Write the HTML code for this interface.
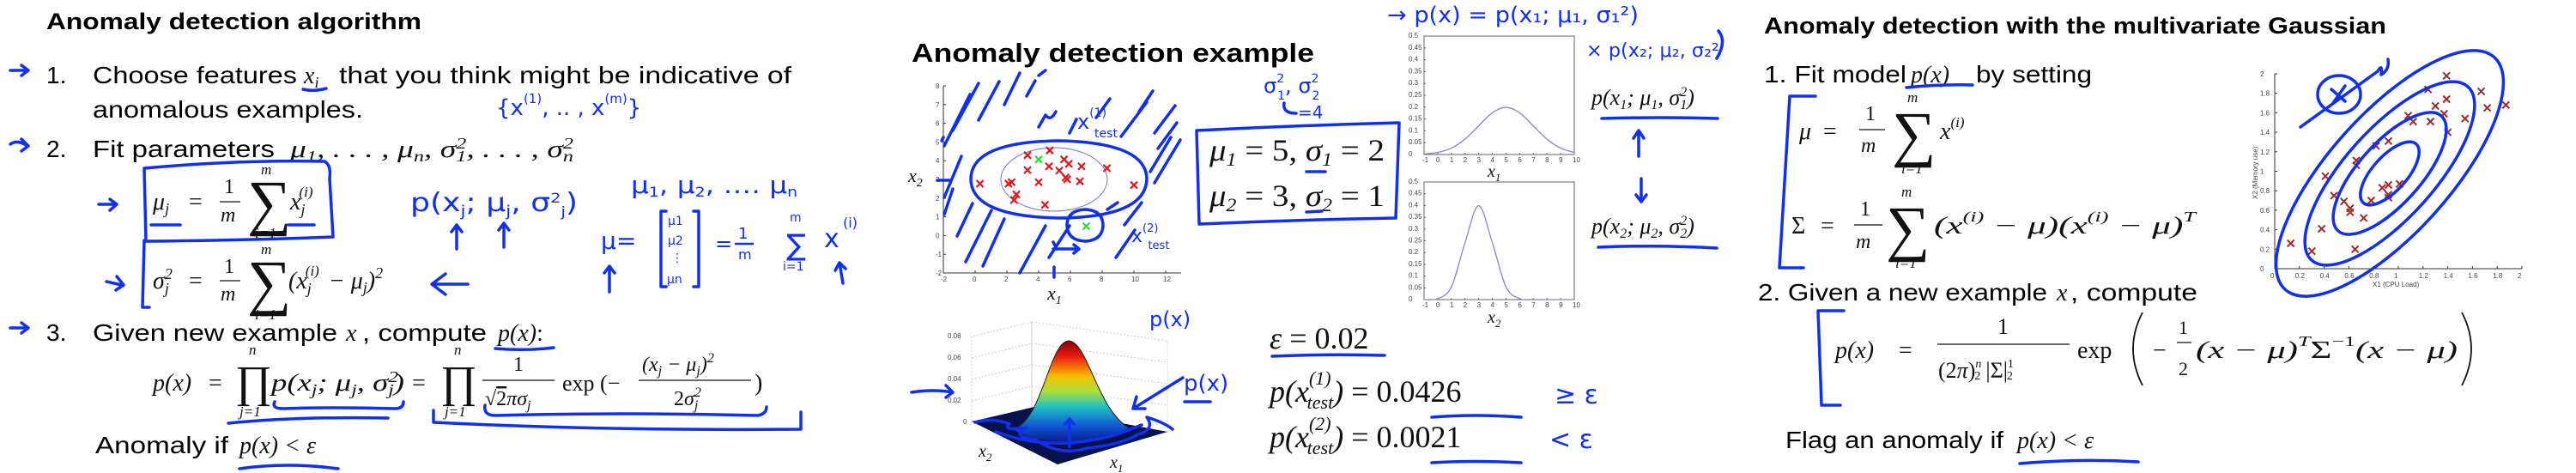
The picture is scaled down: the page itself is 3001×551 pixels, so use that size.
<!DOCTYPE html>
<html><head><meta charset="utf-8"><title>Anomaly detection slides</title>
<style>
html,body{margin:0;padding:0;background:#fff;}
svg{display:block;}
.t{font-family:"Liberation Sans",sans-serif;fill:#000;}
.b{font-weight:bold;}
.m{font-family:"Liberation Serif",serif;font-style:italic;fill:#111;}
.r{font-family:"Liberation Serif",serif;fill:#111;}
.h{font-family:"DejaVu Sans","Liberation Sans",sans-serif;fill:#1030f0;}
.hw{fill:none;stroke:#1030f0;stroke-width:3.5;stroke-linecap:round;stroke-linejoin:round;}
.tk{font-family:"Liberation Sans",sans-serif;fill:#444;font-size:8px;}
</style></head>
<body>
<svg id="root" width="3001" height="551" viewBox="0 0 3001 551" xmlns="http://www.w3.org/2000/svg">
<defs>
<linearGradient id="jet" x1="0" y1="0" x2="0" y2="1">
<stop offset="0" stop-color="#8b0000"/><stop offset="0.15" stop-color="#e81a10"/>
<stop offset="0.35" stop-color="#f5c000"/><stop offset="0.5" stop-color="#a8e040"/>
<stop offset="0.65" stop-color="#20c0c8"/><stop offset="0.85" stop-color="#1050d0"/>
<stop offset="1" stop-color="#0a1a80"/></linearGradient>
</defs>

<!-- ================= LEFT PANEL ================= -->
<g>
<text class="t b" x="54" y="34" font-size="27" textLength="437" lengthAdjust="spacingAndGlyphs">Anomaly detection algorithm</text>

<text class="t" x="54" y="97" font-size="28">1.</text>
<text class="t" x="108" y="97" font-size="28" textLength="238" lengthAdjust="spacingAndGlyphs">Choose features</text>
<text class="m" x="354" y="97" font-size="28">x<tspan font-size="18" dy="5">i</tspan></text>
<text class="t" x="395" y="97" font-size="28" textLength="527" lengthAdjust="spacingAndGlyphs">that you think might be indicative of</text>
<text class="t" x="108" y="137" font-size="28" textLength="315" lengthAdjust="spacingAndGlyphs">anomalous examples.</text>

<text class="t" x="54" y="183" font-size="28">2.</text>
<text class="t" x="108" y="183" font-size="28" textLength="212" lengthAdjust="spacingAndGlyphs">Fit parameters</text>
<text class="m" x="338" y="183" font-size="28" textLength="330" lengthAdjust="spacingAndGlyphs">μ<tspan font-size="18" dy="5">1</tspan><tspan dy="-5">, . . . , μ</tspan><tspan font-size="18" dy="5">n</tspan><tspan dy="-5">, σ</tspan><tspan font-size="18" dy="-10">2</tspan><tspan font-size="18" dx="-9" dy="15">1</tspan><tspan dy="-5">, . . . , σ</tspan><tspan font-size="18" dy="-10">2</tspan><tspan font-size="18" dx="-9" dy="15">n</tspan></text>

<g>
<text class="m" x="178" y="244" font-size="28">μ<tspan font-size="18" dy="5">j</tspan></text>
<text class="r" x="220" y="244" font-size="28">=</text>
<text class="r" x="261" y="225" font-size="24">1</text>
<line x1="256" y1="235" x2="280" y2="235" stroke="#111" stroke-width="1.3"/>
<text class="m" x="257" y="258" font-size="24">m</text>
<text class="r" x="288" y="260" font-size="72">∑</text>
<text class="m" x="304" y="203" font-size="17">m</text>
<text class="m" x="297" y="277" font-size="17">i=1</text>
<text class="m" x="338" y="244" font-size="28">x<tspan font-size="18" dy="6">j</tspan><tspan font-size="17" dx="-7" dy="-21">(i)</tspan></text>
</g>
<g>
<text class="m" x="178" y="336" font-size="28">σ<tspan font-size="18" dy="-11">2</tspan><tspan font-size="18" dx="-9" dy="17">j</tspan></text>
<text class="r" x="220" y="336" font-size="28">=</text>
<text class="r" x="261" y="318" font-size="24">1</text>
<line x1="256" y1="327" x2="280" y2="327" stroke="#111" stroke-width="1.3"/>
<text class="m" x="257" y="350" font-size="24">m</text>
<text class="r" x="288" y="353" font-size="72">∑</text>
<text class="m" x="304" y="296" font-size="17">m</text>
<text class="m" x="297" y="372" font-size="17">i=1</text>
<text class="m" x="336" y="336" font-size="28">(x<tspan font-size="18" dy="6">j</tspan><tspan font-size="17" dx="-7" dy="-21">(i)</tspan><tspan dx="4" dy="15"> − μ</tspan><tspan font-size="18" dy="5">j</tspan><tspan dy="-5">)</tspan><tspan font-size="18" dy="-12">2</tspan></text>
</g>

<text class="t" x="54" y="397" font-size="28">3.</text>
<text class="t" x="108" y="397" font-size="28" textLength="285" lengthAdjust="spacingAndGlyphs">Given new example</text>
<text class="m" x="403" y="397" font-size="28">x</text>
<text class="t" x="422" y="397" font-size="28" textLength="145" lengthAdjust="spacingAndGlyphs">, compute</text>
<text class="m" x="580" y="397" font-size="28">p(x)<tspan font-style="normal">:</tspan></text>

<g>
<text class="m" x="178" y="455" font-size="28">p(x)</text>
<text class="r" x="243" y="455" font-size="28">=</text>
<text class="r" x="274" y="462" font-size="52">∏</text>
<text class="m" x="290" y="413" font-size="17">n</text>
<text class="m" x="279" y="485" font-size="17">j=1</text>
<text class="m" x="316" y="455" font-size="28" textLength="155" lengthAdjust="spacingAndGlyphs">p(x<tspan font-size="18" dy="5">j</tspan><tspan dy="-5">; μ</tspan><tspan font-size="18" dy="5">j</tspan><tspan dy="-5">, σ</tspan><tspan font-size="18" dy="-10">2</tspan><tspan font-size="18" dx="-9" dy="15">j</tspan><tspan dy="-5">)</tspan></text>
<text class="r" x="480" y="455" font-size="28">=</text>
<text class="r" x="513" y="462" font-size="52">∏</text>
<text class="m" x="529" y="413" font-size="17">n</text>
<text class="m" x="518" y="485" font-size="17">j=1</text>
<text class="r" x="598" y="432" font-size="24">1</text>
<line x1="562" y1="443" x2="646" y2="443" stroke="#111" stroke-width="1.3"/>
<text class="r" x="565" y="472" font-size="24">√<tspan text-decoration="overline">2</tspan><tspan font-style="italic">πσ</tspan><tspan font-style="italic" font-size="16" dy="5">j</tspan></text>
<text class="r" x="655" y="455" font-size="26">exp (−</text>
<text class="m" x="748" y="432" font-size="24">(x<tspan font-size="16" dy="5">j</tspan><tspan dy="-5"> − μ</tspan><tspan font-size="16" dy="5">j</tspan><tspan dy="-5">)</tspan><tspan font-size="16" dy="-10">2</tspan></text>
<line x1="744" y1="443" x2="875" y2="443" stroke="#111" stroke-width="1.3"/>
<text class="m" x="785" y="472" font-size="24"><tspan font-style="normal">2</tspan>σ<tspan font-size="16" dy="-10">2</tspan><tspan font-size="16" dx="-8" dy="15">j</tspan></text>
<text class="r" x="879" y="455" font-size="28">)</text>
</g>
<text class="t" x="111" y="528" font-size="28" textLength="155" lengthAdjust="spacingAndGlyphs">Anomaly if</text>
<text class="m" x="279" y="528" font-size="28">p(x) &lt; ε</text>

<!-- handwriting left -->
<g>
<path class="hw" d="M12 82 l20 0 m-7 -6 l8 6 l-8 6 M12 168 q8 -6 20 2 m-7 -8 l8 8 l-8 6 M12 382 l20 0 m-7 -6 l8 6 l-8 6"/>
<path class="hw" d="M115 238 l20 0 m-7 -6 l8 6 l-8 7 M124 328 l18 4 m-6 -10 l8 10 l-9 6"/>
<path class="hw" d="M353 104 q12 3 27 -1"/>
<path class="hw" d="M168 196 q110 -10 210 -8 q8 4 6 20 l4 68 q-100 4 -218 5 z"/>
<path class="hw" d="M168 280 l-2 78 l8 0 M176 262 l34 0 M336 262 l30 0"/>
<path class="hw" d="M545 331 l-40 0 m14 -12 l-16 12 l16 12"/>
<path class="hw" d="M577 406 q35 3 68 -1"/>
<path class="hw" d="M320 468 q-4 8 10 8 q60 -2 130 0 q10 0 10 -8 M266 493 q80 -8 186 -6"/>
<path class="hw" d="M565 472 q-2 12 12 12 q150 -4 306 0 q10 -2 10 -10 M505 478 l0 14 q200 10 428 8 l0 -20"/>
<path class="hw" d="M279 546 q55 -8 115 0"/>
<text class="h" x="578" y="134" font-size="26">{x<tspan font-size="15" dy="-14">(1)</tspan><tspan dy="14">, .. , x</tspan><tspan font-size="15" dy="-14">(m)</tspan><tspan dy="14">}</tspan></text>
<text class="h" x="478" y="246" font-size="30" textLength="195" lengthAdjust="spacingAndGlyphs">p(x<tspan font-size="18" dy="6">j</tspan><tspan dy="-6">; μ</tspan><tspan font-size="18" dy="6">j</tspan><tspan dy="-6">, σ</tspan><tspan font-size="16" dy="-10">2</tspan><tspan font-size="16" dy="16">j</tspan><tspan dy="-6">)</tspan></text>
<path class="hw" d="M532 290 l0 -28 m-6 8 l6 -8 l6 8 M587 288 l0 -28 m-6 8 l6 -8 l6 8"/>
<text class="h" x="735" y="225" font-size="28" textLength="194" lengthAdjust="spacingAndGlyphs">μ<tspan font-size="16" dy="4">1</tspan><tspan dy="-4">, μ</tspan><tspan font-size="16" dy="4">2</tspan><tspan dy="-4">, …. μ</tspan><tspan font-size="16" dy="4">n</tspan></text>
<text class="h" x="700" y="290" font-size="28">μ=</text>
<path class="hw" d="M776 246 l-6 0 l0 88 l6 0 M808 246 l6 0 l0 88 l-6 0 M710 340 l0 -30 m-6 8 l6 -8 l6 8"/>
<text class="h" x="778" y="262" font-size="14">μ1</text><text class="h" x="778" y="285" font-size="14">μ2</text>
<text class="h" x="782" y="305" font-size="14">⋮</text><text class="h" x="777" y="330" font-size="14">μn</text>
<text class="h" x="833" y="292" font-size="24">=</text>
<text class="h" x="860" y="278" font-size="18">1</text>
<line x1="856" y1="284" x2="878" y2="284" stroke="#1030f0" stroke-width="2.5"/>
<text class="h" x="860" y="302" font-size="16">m</text>
<text class="h" x="916" y="297" font-size="34">∑</text>
<text class="h" x="920" y="258" font-size="14">m</text><text class="h" x="912" y="315" font-size="14">i=1</text>
<text class="h" x="960" y="288" font-size="30">x</text><text class="h" x="982" y="265" font-size="16">(i)</text>
<path class="hw" d="M982 330 l-4 -24 m-5 9 l5 -9 l7 7"/>
</g>
</g>

<!-- ================= MIDDLE PANEL ================= -->
<g>
<text class="t b" x="1062" y="72" font-size="31" textLength="469" lengthAdjust="spacingAndGlyphs">Anomaly detection example</text>
<g id="midScatter"></g>
<text class="m" x="1220" y="349" font-size="22">x<tspan font-size="14" dy="5">1</tspan></text>
<text class="m" x="1058" y="212" font-size="22">x<tspan font-size="14" dy="5">2</tspan></text>

<g>
<path class="hw" d="M1394 152 q120 -6 236 -9 l-4 111 q-115 2 -229 7 z"/>
<text class="m" x="1409" y="187" font-size="36" textLength="204" lengthAdjust="spacingAndGlyphs">μ<tspan font-size="22" dy="6">1</tspan><tspan font-style="normal" dy="-6"> = 5, </tspan>σ<tspan font-size="22" dy="6">1</tspan><tspan font-style="normal" dy="-6"> = 2</tspan></text>
<text class="m" x="1409" y="240" font-size="36" textLength="204" lengthAdjust="spacingAndGlyphs">μ<tspan font-size="22" dy="6">2</tspan><tspan font-style="normal" dy="-6"> = 3, </tspan>σ<tspan font-size="22" dy="6">2</tspan><tspan font-style="normal" dy="-6"> = 1</tspan></text>
<path class="hw" d="M1522 200 l22 0 M1522 247 l18 -1"/>
</g>
<g>
<text class="h" x="1472" y="108" font-size="24">σ<tspan font-size="14" dy="-12">2</tspan><tspan font-size="14" dx="-8" dy="20">1</tspan><tspan dy="-8">, σ</tspan><tspan font-size="14" dy="-12">2</tspan><tspan font-size="14" dx="-8" dy="20">2</tspan></text>
<path class="hw" d="M1496 120 q-2 12 14 12"/>
<text class="h" x="1512" y="138" font-size="20">=4</text>
</g>

<g id="dist1"></g>
<g id="dist2"></g>
<text class="m" x="1733" y="206" font-size="20">x<tspan font-size="13" dy="5">1</tspan></text>
<text class="m" x="1733" y="376" font-size="20">x<tspan font-size="13" dy="5">2</tspan></text>
<text class="m" x="1854" y="122" font-size="26">p(x<tspan font-size="16" dy="5">1</tspan><tspan dy="-5">; μ</tspan><tspan font-size="16" dy="5">1</tspan><tspan dy="-5">, σ</tspan><tspan font-size="16" dy="-10">2</tspan><tspan font-size="16" dx="-8" dy="15">1</tspan><tspan dy="-5">)</tspan></text>
<text class="m" x="1854" y="272" font-size="26">p(x<tspan font-size="16" dy="5">2</tspan><tspan dy="-5">; μ</tspan><tspan font-size="16" dy="5">2</tspan><tspan dy="-5">, σ</tspan><tspan font-size="16" dy="-10">2</tspan><tspan font-size="16" dx="-8" dy="15">2</tspan><tspan dy="-5">)</tspan></text>
<path class="hw" d="M1866 138 q70 -2 135 0 M1862 288 q70 -3 138 1 M1909 182 l0 -30 m-6 9 l6 -9 l6 9 M1912 208 l0 27 m-6 -8 l6 8 l6 -8"/>
<text class="h" x="1616" y="26" font-size="26" textLength="293" lengthAdjust="spacingAndGlyphs">→ p(x) = p(x₁; μ₁, σ₁²)</text>
<text class="h" x="1848" y="66" font-size="22" textLength="155" lengthAdjust="spacingAndGlyphs">× p(x₂; μ₂, σ₂²</text>

<g id="surface">
<path d="M1132 392 l0 100 l70 -17 l0 -100 z M1202 375 l158 22 l0 106 l-158 -28 z" fill="none" stroke="#ccc" stroke-width="1" stroke-dasharray="2 2"/>
<path d="M1132 417 l70 -17 l158 22 M1132 442 l70 -17 l158 22 M1132 467 l70 -17 l158 22" fill="none" stroke="#ccc" stroke-width="1" stroke-dasharray="2 2"/>
<polygon points="1132,491 1205,474 1360,503 1232,541" fill="#06124a"/>
<path d="M1180 500 C1215 490 1222 398 1245 397 C1268 398 1278 480 1318 500 C1290 520 1210 522 1180 500 Z" fill="url(#jet)" stroke="#222" stroke-width="1"/>
<path class="hw" d="M1136 492 q20 -6 40 2 q-10 8 20 4 q-20 10 10 14 q30 20 60 10 q40 -4 60 -16 q20 -6 10 -20 q20 6 30 14 M1160 503 q80 30 170 -8 M1246 490 l0 30 m-5 -26 l5 -6 l5 6"/>
<text class="tk" x="1104" y="394">0.08</text><text class="tk" x="1104" y="419">0.06</text>
<text class="tk" x="1104" y="444">0.04</text><text class="tk" x="1104" y="469">0.02</text><text class="tk" x="1122" y="494">0</text>
<text class="m" x="1140" y="532" font-size="20">x<tspan font-size="13" dy="5">2</tspan></text>
<text class="m" x="1293" y="545" font-size="20">x<tspan font-size="13" dy="5">1</tspan></text>
<text class="h" x="1339" y="380" font-size="24">p(x)</text>
<text class="h" x="1379" y="455" font-size="26">p(x)</text>
<path class="hw" d="M1380 468 l30 0 M1378 440 l-58 36 m4 -14 l-4 14 l14 0 M1062 457 q25 -4 48 0 m-8 -8 l8 8 l-8 6"/>
</g>

<g>
<text class="m" x="1479" y="406" font-size="36">ε <tspan font-style="normal">= 0.02</tspan></text>
<text class="m" x="1479" y="468" font-size="36">p(x<tspan font-size="22" dy="-20">(1)</tspan><tspan font-size="22" dx="-28" dy="28">test</tspan><tspan dy="-8">)</tspan><tspan font-style="normal"> = 0.0426</tspan></text>
<text class="m" x="1479" y="521" font-size="36">p(x<tspan font-size="22" dy="-20">(2)</tspan><tspan font-size="22" dx="-28" dy="28">test</tspan><tspan dy="-8">)</tspan><tspan font-style="normal"> = 0.0021</tspan></text>
<path class="hw" d="M1482 415 q65 -3 131 -1 M1668 486 q50 -4 104 0 M1668 539 q50 -3 104 0"/>
<text class="h" x="1811" y="470" font-size="30">≥ ε</text>
<text class="h" x="1805" y="522" font-size="30">&lt; ε</text>
</g>
</g>

<!-- ================= RIGHT PANEL ================= -->
<g>
<text class="t b" x="2055" y="39" font-size="27" textLength="725" lengthAdjust="spacingAndGlyphs">Anomaly detection with the multivariate Gaussian</text>
<text class="t" x="2055" y="96" font-size="28" textLength="166" lengthAdjust="spacingAndGlyphs">1. Fit model</text>
<text class="m" x="2226" y="96" font-size="28">p(x)</text>
<text class="t" x="2302" y="96" font-size="28" textLength="135" lengthAdjust="spacingAndGlyphs">by setting</text>
<g>
<text class="m" x="2096" y="162" font-size="28">μ</text>
<text class="r" x="2124" y="162" font-size="28">=</text>
<text class="r" x="2173" y="140" font-size="24">1</text>
<line x1="2166" y1="151" x2="2196" y2="151" stroke="#111" stroke-width="1.3"/>
<text class="m" x="2168" y="177" font-size="24">m</text>
<text class="r" x="2204" y="180" font-size="72">∑</text>
<text class="m" x="2222" y="119" font-size="17">m</text>
<text class="m" x="2215" y="202" font-size="17">i=1</text>
<text class="m" x="2260" y="162" font-size="28">x<tspan font-size="17" dy="-14">(i)</tspan></text>
</g>
<g>
<text class="r" x="2087" y="272" font-size="28">Σ</text>
<text class="r" x="2121" y="272" font-size="28">=</text>
<text class="r" x="2167" y="251" font-size="24">1</text>
<line x1="2160" y1="262" x2="2193" y2="262" stroke="#111" stroke-width="1.3"/>
<text class="m" x="2162" y="289" font-size="24">m</text>
<text class="r" x="2197" y="290" font-size="72">∑</text>
<text class="m" x="2215" y="229" font-size="17">m</text>
<text class="m" x="2208" y="312" font-size="17">i=1</text>
<text class="m" x="2253" y="272" font-size="28" textLength="305" lengthAdjust="spacingAndGlyphs">(x<tspan font-size="17" dy="-14">(i)</tspan><tspan dy="14"> − μ)(x</tspan><tspan font-size="17" dy="-14">(i)</tspan><tspan dy="14"> − μ)</tspan><tspan font-size="17" dy="-14">T</tspan></text>
</g>
<text class="t" x="2048" y="350" font-size="28" textLength="337" lengthAdjust="spacingAndGlyphs">2. Given a new example</text>
<text class="m" x="2396" y="350" font-size="28">x</text>
<text class="t" x="2412" y="350" font-size="28" textLength="148" lengthAdjust="spacingAndGlyphs">, compute</text>
<g>
<text class="m" x="2138" y="417" font-size="28">p(x)</text>
<text class="r" x="2212" y="417" font-size="28">=</text>
<text class="r" x="2327" y="389" font-size="26">1</text>
<line x1="2257" y1="401" x2="2411" y2="401" stroke="#111" stroke-width="1.3"/>
<text class="r" x="2258" y="440" font-size="26">(2<tspan font-style="italic">π</tspan>)<tspan font-style="italic" font-size="14" dy="-12">n</tspan><tspan font-size="14" dx="-8" dy="14">2</tspan><tspan dy="-2" dx="6">|Σ|</tspan><tspan font-size="14" dy="-12">1</tspan><tspan font-size="14" dx="-8" dy="14">2</tspan></text>
<text class="r" x="2420" y="417" font-size="28">exp</text>
<path d="M2496 364 q-22 42 0 85" fill="none" stroke="#111" stroke-width="1.8"/>
<text class="r" x="2508" y="417" font-size="28">−</text>
<text class="r" x="2538" y="389" font-size="22">1</text>
<line x1="2536" y1="399" x2="2553" y2="399" stroke="#111" stroke-width="1.3"/>
<text class="r" x="2538" y="437" font-size="22">2</text>
<text class="m" x="2558" y="417" font-size="28" textLength="305" lengthAdjust="spacingAndGlyphs">(x − μ)<tspan font-size="17" dy="-14">T</tspan><tspan font-style="normal" dy="14">Σ</tspan><tspan font-style="normal" font-size="17" dy="-14">−1</tspan><tspan dy="14">(x − μ)</tspan></text>
<path d="M2868 364 q22 42 0 85" fill="none" stroke="#111" stroke-width="1.8"/>
</g>
<text class="t" x="2080" y="522" font-size="28" textLength="254" lengthAdjust="spacingAndGlyphs">Flag an anomaly if</text>
<text class="m" x="2350" y="522" font-size="28">p(x) &lt; ε</text>
<path class="hw" d="M2221 102 q40 -4 77 -3 M2115 112 l-30 0 l-12 200 l28 0 M2148 362 l-30 0 l4 110 l22 0 M2353 540 q70 -6 138 -2 M2002 36 q10 12 -2 32"/>
<g id="mvgScatter"></g>
<text class="tk" x="2764" y="334" font-size="9">X1 (CPU Load)</text>
<text class="tk" x="0" y="0" font-size="9" transform="translate(2630 232) rotate(-90)">X2 (Memory use)</text>
</g>
</svg>

<script>
// ---------- data ----------
const midRedX = [0.3, 2.1, 2.3, 2.6, 2.45, 3.3, 3.3, 4.0, 4.4, 4.7, 4.65, 5.3, 5.6, 5.9, 5.7, 5.8, 6.6, 6.7, 8.3, 10.0];
const midRedY = [2.77, 2.77, 2.85, 2.2, 1.9, 4.3, 3.5, 2.85, 1.64, 4.55, 3.7, 3.47, 4.07, 3.83, 3.1, 3.0, 2.9, 3.7, 3.6, 2.7];
const midGreenX = [4.0, 7.0];
const midGreenY = [4.07, 0.5];
const midXTicks = [-2, 0, 2, 4, 6, 8, 10, 12];
const midYTicks = [-2, -1, 0, 1, 2, 3, 4, 5, 6, 7, 8];

const distX = [-1, 0, 1, 2, 3, 4, 5, 6, 7, 8, 9, 10];
const dist1Y = [0.002, 0.009, 0.027, 0.065, 0.121, 0.176, 0.199, 0.176, 0.121, 0.065, 0.027, 0.009];
const dist2Y = [0.0001, 0.004, 0.054, 0.242, 0.399, 0.242, 0.054, 0.004, 0.0001, 0, 0, 0];
const distYTicks = [0, 0.05, 0.1, 0.15, 0.2, 0.25, 0.3, 0.35, 0.4, 0.45, 0.5];
const distYLabels = ["0", "0.05", "0.1", "0.15", "0.2", "0.25", "0.3", "0.35", "0.4", "0.45", "0.5"];

const mvgX = [0.13, 0.30, 0.38, 0.41, 0.48, 0.56, 0.61, 0.61, 0.72, 0.66, 0.66, 0.82, 0.92, 0.78, 0.87, 0.92, 0.92, 0.92, 1.01, 1.08, 1.12, 1.24, 1.26, 1.30, 1.37, 1.39, 1.39, 1.40, 1.54, 1.67, 1.72, 1.87, 0.65];
const mvgY = [0.26, 0.18, 0.41, 0.95, 0.75, 0.69, 0.62, 0.58, 0.52, 1.11, 1.06, 1.26, 1.31, 0.70, 0.83, 0.86, 0.76, 0.73, 0.87, 1.57, 1.51, 1.84, 1.51, 1.67, 1.59, 1.74, 1.98, 1.40, 1.54, 1.82, 1.65, 1.68, 0.20];
const mvgTicks = [0, 0.2, 0.4, 0.6, 0.8, 1, 1.2, 1.4, 1.6, 1.8, 2];
const mvgTickLabels = ["0", "0.2", "0.4", "0.6", "0.8", "1", "1.2", "1.4", "1.6", "1.8", "2"];

// ---------- helpers ----------
const NS = "http://www.w3.org/2000/svg";
function mk(parent, tag, attrs) {
  const e = document.createElementNS(NS, tag);
  for (const k in attrs) e.setAttribute(k, attrs[k]);
  parent.appendChild(e);
  return e;
}
function lin(d0, d1, r0, r1) { return v => r0 + (v - d0) / (d1 - d0) * (r1 - r0); }
function crossMark(g, cx, cy, s, color, w) {
  return mk(g, "path", { d: `M${cx - s} ${cy - s}L${cx + s} ${cy + s}M${cx + s} ${cy - s}L${cx - s} ${cy + s}`, stroke: color, "stroke-width": w, fill: "none" });
}
function smoothPath(pts) {
  let d = `M${pts[0][0]} ${pts[0][1]}`;
  for (let i = 0; i < pts.length - 1; i++) {
    const p0 = pts[Math.max(0, i - 1)], p1 = pts[i], p2 = pts[i + 1], p3 = pts[Math.min(pts.length - 1, i + 2)];
    const c1x = p1[0] + (p2[0] - p0[0]) / 6, c1y = p1[1] + (p2[1] - p0[1]) / 6;
    const c2x = p2[0] - (p3[0] - p1[0]) / 6, c2y = p2[1] - (p3[1] - p1[1]) / 6;
    d += `C${c1x} ${c1y} ${c2x} ${c2y} ${p2[0]} ${p2[1]}`;
  }
  return d;
}

// ---------- middle scatter ----------
(function () {
  const g = document.getElementById("midScatter");
  const sx = lin(-2, 12, 1099, 1358), sy = lin(-2, 8, 318, 100);
  const ax = mk(g, "path", { d: "M1099 100 L1099 318 L1376 318", stroke: "#333", "stroke-width": 1, fill: "none" });
  
  
  midXTicks.forEach(t => {
    mk(g, "line", { x1: sx(t), y1: 318, x2: sx(t), y2: 315, stroke: "#333" });
    const tx = mk(g, "text", { x: sx(t) - 3, y: 328, class: "tk" });
    tx.textContent = t;
    
    
  });
  midYTicks.forEach(t => {
    mk(g, "line", { x1: 1099, y1: sy(t), x2: 1102, y2: sy(t), stroke: "#333" });
    const tx = mk(g, "text", { x: 1090, y: sy(t) + 3, class: "tk" });
    tx.textContent = t;
    
    
  });
  mk(g, "ellipse", { cx: 1228, cy: 209, rx: 62, ry: 37, fill: "none", stroke: "#7a6fc8", "stroke-width": 1 });
  midRedX.forEach((x, i) => {
    const m = crossMark(g, sx(x), sy(midRedY[i]), 4, "#e3141c", 2.2);
    
    
  });
  midGreenX.forEach((x, i) => {
    const m = crossMark(g, sx(x), sy(midGreenY[i]), 4, "#28e028", 2.2);
    
    
  });
  const hw = mk(g, "path", { class: "hw", d:
    "M1131 209 q0 -44 103 -45 q102 2 102 45 q-2 44 -102 45 q-102 -2 -103 -45 z " +
    "M1243 263 q0 -18 21 -19 q21 1 21 19 q-1 17 -21 18 q-20 -1 -21 -18 z " +
    "M1099 160 l-2 4 M1100 170 l30 -60 M1110 152 l30 -55 M1140 140 l24 -45 M1170 122 l18 -37 M1196 112 l10 -18 M1210 88 l8 -6 M1246 155 l8 -16 M1277 137 l16 -22 M1327 130 l16 -24 M1306 159 l30 -40 M1345 155 l24 -32 M1349 173 l22 -30 M1345 213 l30 -50 " +
    "M1100 230 l20 -48 M1100 250 l10 -30 M1115 275 l18 -38 M1125 305 l30 -60 M1145 310 l25 -55 M1188 318 l30 -55 M1222 300 l24 -37 M1300 300 l22 -32 M1310 262 l20 -26 M1340 200 l24 -40 " +
    "M1210 148 l8 -14 q6 8 12 -4 M1227 290 l30 0 m-6 -5 l6 5 l-6 5 M1231 290 l-4 -8 M1228 323 l0 -12 M1092 210 l14 0 M1290 244 l12 -8" });
  
  
  const t1 = mk(g, "text", { class: "h", x: 1255, y: 150, "font-size": 24 });
  t1.innerHTML = 'x<tspan font-size="14" dy="-14">(1)</tspan><tspan font-size="14" dx="-14" dy="24">test</tspan>';
  
  
  const t2 = mk(g, "text", { class: "h", x: 1318, y: 282, "font-size": 22 });
  t2.innerHTML = 'x<tspan font-size="13" dy="-12">(2)</tspan><tspan font-size="13" dx="-12" dy="20">test</tspan>';
  
  
})();

// ---------- distribution plots ----------
function drawDist(id, top, bottom, ys) {
  const g = document.getElementById(id);
  const sx = lin(-1, 10, 1659, 1834), sy = lin(0, 0.5, bottom, top);
  const box = mk(g, "rect", { x: 1659, y: top, width: 175, height: bottom - top, fill: "none", stroke: "#666", "stroke-width": 1 });
  
  
  distX.forEach(t => {
    mk(g, "line", { x1: sx(t), y1: bottom, x2: sx(t), y2: bottom - 2, stroke: "#666" });
    const tx = mk(g, "text", { x: sx(t) - 2, y: bottom + 9, class: "tk", "font-size": 6 });
    tx.textContent = t;
    
    
  });
  distYTicks.forEach((t, i) => {
    mk(g, "line", { x1: 1659, y1: sy(t), x2: 1661, y2: sy(t), stroke: "#666" });
    const tx = mk(g, "text", { x: 1641, y: sy(t) + 2, class: "tk", "font-size": 6 });
    tx.textContent = distYLabels[i];
    
    
  });
  const pts = distX.map((x, i) => [sx(x), sy(ys[i])]);
  const c = mk(g, "path", { d: smoothPath(pts), fill: "none", stroke: "#8a84c8", "stroke-width": 1.3 });
  
  
}
drawDist("dist1", 42, 180, dist1Y);
drawDist("dist2", 212, 349, dist2Y);

// ---------- multivariate scatter ----------
(function () {
  const g = document.getElementById("mvgScatter");
  const sx = lin(0, 2, 2650, 2938), sy = lin(0, 2, 313, 86);
  const ax = mk(g, "path", { d: "M2650 86 L2650 313 L2938 313", stroke: "#333", "stroke-width": 1, fill: "none" });
  
  
  mvgTicks.forEach((t, i) => {
    mk(g, "line", { x1: sx(t), y1: 313, x2: sx(t), y2: 310, stroke: "#333" });
    const tx = mk(g, "text", { x: sx(t) - 5, y: 324, class: "tk" });
    tx.textContent = mvgTickLabels[i];
    
    
    mk(g, "line", { x1: 2650, y1: sy(t), x2: 2653, y2: sy(t), stroke: "#333" });
    const ty = mk(g, "text", { x: 2633, y: sy(t) + 3, class: "tk" });
    ty.textContent = mvgTickLabels[i];
    
    
  });
  mvgX.forEach((x, i) => {
    const m = crossMark(g, sx(x), sy(mvgY[i]), 4, "#a0282a", 2);
    
    
  });
  const c = mk(g, "g", { transform: "translate(2784 202) rotate(-48)" });
  
  
  [[46, 20], [90, 36], [136, 52], [182, 70]].forEach(r => {
    mk(c, "ellipse", { cx: 0, cy: 0, rx: r[0], ry: r[1], class: "hw" });
  });
  const a = mk(g, "path", { class: "hw", d: "M2700 110 a25 22 0 1 0 50 0 a25 22 0 1 0 -50 0 M2680 148 l90 -65 q6 -10 4 4 q10 -6 8 -18 M2716 104 l16 14 M2732 100 l-14 20" });
  
  
})();
</script>
</body></html>
